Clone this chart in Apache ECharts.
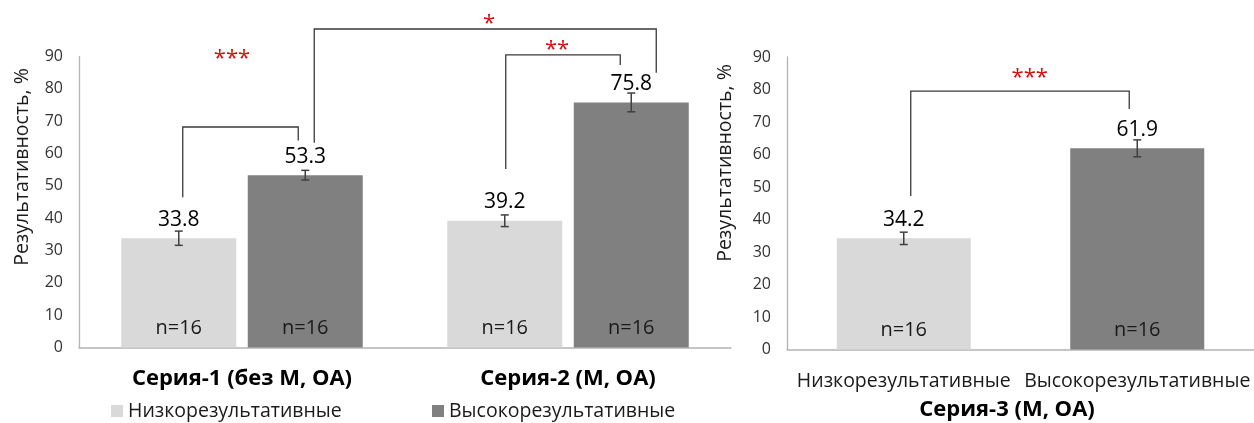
<!DOCTYPE html>
<html>
<head>
<meta charset="utf-8">
<script src="https://cdn.jsdelivr.net/npm/echarts@6/dist/echarts.min.js"></script>
<style>
  html, body { margin: 0; padding: 0; background: #ffffff; }
  #chart { width: 1254px; height: 423px; }
</style>
</head>
<body>
<div id="chart"></div>
<script>
// ---- Series 1 & 2: grouped bars (low vs high performers) ----
const groupCategories = ['Серия-1 (без М, ОА)', 'Серия-2 (М, ОА)'];
const lowValues = [33.8, 39.2];
const lowErrors = [2.2, 1.8];
const lowN = [16, 16];
const highValues = [53.3, 75.8];
const highErrors = [1.5, 2.9];
const highN = [16, 16];

// ---- Series 3 ----
const series3Categories = ['Низкорезультативные', 'Высокорезультативные'];
const series3Values = [34.2, 61.9];
const series3Errors = [1.9, 2.6];
const series3N = [16, 16];
const series3Title = 'Серия-3 (М, ОА)';

// ---- Axis and legend text ----
const yMin = 0, yMax = 90, yStep = 10;
const yTitle = 'Результативность, %';
const legendNames = ['Низкорезультативные', 'Высокорезультативные'];

// ---- Significance marks ----
const sigLeft = [
  { a: [0, 'low'], b: [0, 'high'], endA: 46.5, endB: 64.0, top: 68.2 },
  { a: [0, 'high'], b: [1, 'high'], endA: 63.3, endB: 85.0, top: 98.5 },
  { a: [1, 'low'], b: [1, 'high'], endA: 55.2, endB: 87.4, top: 90.5 }
];
const starsLeft = [
  { text: '***', cat: 0, y: 90.5 },
  { text: '*', cat: 1, y: 101.3 },
  { text: '**', cat: 1, y: 93.3 }
];
const sigRight = [{ a: [0, 'mid'], b: [1, 'mid'], endA: 47.2, endB: 74.0, top: 79.5 }];
const starsRight = [{ text: '***', cat: 0, y: 84.8 }];

// ---- Styling / layout ----
const FONT = '"Open Sans", "Noto Sans", sans-serif';
const LIGHT = '#d9d9d9';
const DARK = '#808080';
const AXIS = '#b3b3b3';
const INK = '#1a1a1a';
const BAR_W_LEFT = 115, BAR_GAP = 0.1, BAR_W_RIGHT = 134;
const sideShift = { low: -(BAR_W_LEFT * (1 + BAR_GAP)) / 2, high: (BAR_W_LEFT * (1 + BAR_GAP)) / 2, mid: 0 };
// small pixel nudges of the bracket legs relative to bar centres
const legNudgeLeft = [[4, -7], [9, 25], [1, -11]];
const legNudgeRight = [[7, -8]];
const starNudgeLeft = [-10, -79, -11];
const starNudgeRight = [126];

const chart = echarts.init(document.getElementById('chart'), null, { renderer: 'canvas' });

function errorSeries(values, errors, gridIdx, dx) {
  return {
    type: 'custom',
    xAxisIndex: gridIdx,
    yAxisIndex: gridIdx,
    silent: true,
    z: 5,
    data: values.map((v, i) => [i, v, errors[i]]),
    renderItem(params, api) {
      const cat = api.value(0), v = api.value(1), e = api.value(2);
      const pTop = api.coord([cat, v + e]);
      const pBot = api.coord([cat, v - e]);
      const pBar = api.coord([cat, v]);
      const x = pTop[0] + dx;
      const ls = { stroke: '#404040', lineWidth: 1.5 };
      return {
        type: 'group',
        children: [
          { type: 'line', shape: { x1: x, y1: pTop[1], x2: x, y2: pBot[1] }, style: ls },
          { type: 'line', shape: { x1: x - 4, y1: pTop[1], x2: x + 4, y2: pTop[1] }, style: ls },
          { type: 'line', shape: { x1: x - 4, y1: pBot[1], x2: x + 4, y2: pBot[1] }, style: ls },
          {
            type: 'text', x: x, y: pBar[1] - 8,
            style: {
              text: v.toFixed(1), fill: '#000', font: '21px ' + FONT,
              textAlign: 'center', textVerticalAlign: 'bottom', align: 'center', verticalAlign: 'bottom'
            }
          }
        ]
      };
    }
  };
}

function nLabel(arr) {
  return {
    show: true, position: 'insideBottom', distance: 9,
    formatter: (p) => 'n=' + arr[p.dataIndex],
    fontSize: 20, color: INK, fontFamily: FONT
  };
}

const yAxisBase = (gridIndex) => ({
  type: 'value', gridIndex, min: yMin, max: yMax, interval: yStep,
  axisLine: { show: true, lineStyle: { color: AXIS, width: 1.3 } },
  axisTick: { show: false },
  splitLine: { show: false },
  axisLabel: { fontSize: 16, color: '#333', margin: 16, fontFamily: FONT }
});

chart.setOption({
  animation: false,
  backgroundColor: '#ffffff',
  grid: [
    { left: 79, top: 56.5, width: 652, height: 291 },
    { left: 787, top: 57, width: 467, height: 292.5 }
  ],
  xAxis: [
    {
      type: 'category', gridIndex: 0, data: groupCategories,
      axisLine: { lineStyle: { color: AXIS, width: 1.5 } },
      axisTick: { show: false },
      axisLabel: { interval: 0, fontSize: 22, fontWeight: 'bold', color: '#000', margin: 20, fontFamily: FONT }
    },
    {
      type: 'category', gridIndex: 1, data: series3Categories,
      axisLine: { lineStyle: { color: AXIS, width: 1.5 } },
      axisTick: { show: false },
      axisLabel: { interval: 0, hideOverlap: false, fontSize: 19.5, color: INK, margin: 22, fontFamily: FONT }
    }
  ],
  yAxis: [yAxisBase(0), yAxisBase(1)],
  legend: [
    {
      data: [legendNames[0]], left: 106, top: 396, selectedMode: false,
      icon: 'rect', itemWidth: 12, itemHeight: 12,
      textStyle: { fontSize: 19.5, color: INK, fontFamily: FONT }
    },
    {
      data: [legendNames[1]], left: 427, top: 396, selectedMode: false,
      icon: 'rect', itemWidth: 12, itemHeight: 12,
      textStyle: { fontSize: 19.5, color: INK, fontFamily: FONT }
    }
  ],
  series: [
    {
      type: 'bar', name: legendNames[0], xAxisIndex: 0, yAxisIndex: 0,
      data: lowValues, barWidth: BAR_W_LEFT, barGap: (BAR_GAP * 100) + '%',
      itemStyle: { color: LIGHT }, label: nLabel(lowN)
    },
    {
      type: 'bar', name: legendNames[1], xAxisIndex: 0, yAxisIndex: 0,
      data: highValues, barWidth: BAR_W_LEFT, barGap: (BAR_GAP * 100) + '%',
      itemStyle: { color: DARK }, label: nLabel(highN)
    },
    {
      type: 'bar', name: series3Title, xAxisIndex: 1, yAxisIndex: 1,
      data: series3Values.map((v, i) => ({ value: v, itemStyle: { color: i === 0 ? LIGHT : DARK } })),
      barWidth: BAR_W_RIGHT, label: nLabel(series3N)
    },
    errorSeries(lowValues, lowErrors, 0, sideShift.low),
    errorSeries(highValues, highErrors, 0, sideShift.high),
    errorSeries(series3Values, series3Errors, 1, 0)
  ]
});

// Axis titles, series-3 caption, brackets and stars
function buildAnnotations() {
  const g = [];
  const px = (grid, cat, val) => chart.convertToPixel({ gridIndex: grid }, [cat, val]);

  g.push({
    type: 'text', x: 22, y: 167, rotation: Math.PI / 2,
    style: { text: yTitle, fill: INK, font: '19.5px ' + FONT, textAlign: 'center', textVerticalAlign: 'middle', align: 'center', verticalAlign: 'middle' }
  });
  g.push({
    type: 'text', x: 725, y: 163, rotation: Math.PI / 2,
    style: { text: yTitle, fill: INK, font: '19.5px ' + FONT, textAlign: 'center', textVerticalAlign: 'middle', align: 'center', verticalAlign: 'middle' }
  });
  g.push({
    type: 'text', x: 1007, y: 410,
    style: { text: series3Title, fill: '#000', font: 'bold 22px ' + FONT, textAlign: 'center', textVerticalAlign: 'middle', align: 'center', verticalAlign: 'middle' }
  });

  function brackets(list, nudges, grid) {
    list.forEach((b, i) => {
      const xa = px(grid, b.a[0], 0)[0] + sideShift[b.a[1]] + nudges[i][0];
      const xb = px(grid, b.b[0], 0)[0] + sideShift[b.b[1]] + nudges[i][1];
      const ya = px(grid, 0, b.endA)[1];
      const yb = px(grid, 0, b.endB)[1];
      const yt = px(grid, 0, b.top)[1];
      g.push({
        type: 'polyline',
        shape: { points: [[xa, ya], [xa, yt], [xb, yt], [xb, yb]] },
        style: { stroke: '#3a3a3a', lineWidth: 1.3, fill: null }
      });
    });
  }
  function stars(list, nudges, grid) {
    list.forEach((s, i) => {
      const p = px(grid, s.cat, s.y);
      g.push({
        type: 'text', x: p[0] + nudges[i], y: p[1] + 4,
        style: { text: s.text, fill: '#d01010', font: '22px ' + FONT, textAlign: 'center', textVerticalAlign: 'middle', align: 'center', verticalAlign: 'middle' }
      });
    });
  }
  brackets(sigLeft, legNudgeLeft, 0);
  brackets(sigRight, legNudgeRight, 1);
  stars(starsLeft, starNudgeLeft, 0);
  stars(starsRight, starNudgeRight, 1);
  chart.setOption({ graphic: g });
}
buildAnnotations();
</script>
</body>
</html>
